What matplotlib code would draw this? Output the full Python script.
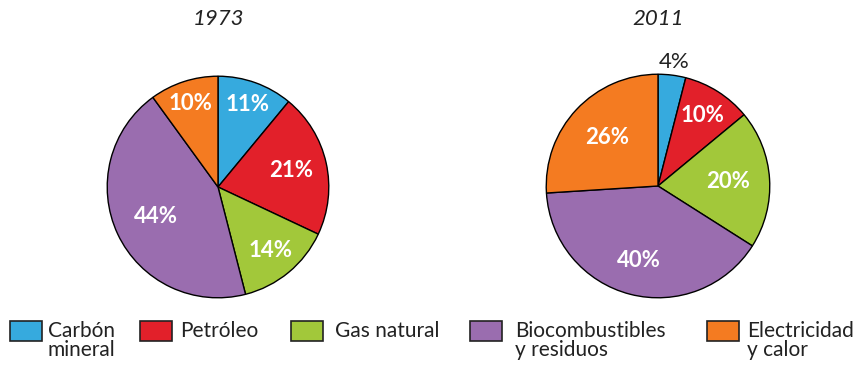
import numpy as np
import matplotlib.pyplot as plt
from matplotlib.patches import Rectangle

plt.rcParams['font.family'] = ['Lato', 'DejaVu Sans']

categories = ["Carbón\nmineral", "Petróleo", "Gas natural",
              "Biocombustibles\ny residuos", "Electricidad\ny calor"]
years = ["1973", "2011"]
shares_1973 = [11, 21, 14, 44, 10]
shares_2011 = [4, 10, 20, 40, 26]
colors = ["#36aade", "#e2202a", "#a2c83a", "#9a6daf", "#f47b21"]

# label radial distances (fraction of radius) and colours per wedge
label_dist = {
    "1973": [0.79, 0.68, 0.74, 0.62, 0.79],
    "2011": [1.12, 0.75, 0.63, 0.69, 0.63],
}
label_col = {
    "1973": ["white"] * 5,
    "2011": ["#222222", "white", "white", "white", "white"],
}

W, H = 857, 366
fig = plt.figure(figsize=(W / 100, H / 100), dpi=100)

# overlay in pixel coordinates for titles and legend
lg = fig.add_axes([0, 0, 1, 1], zorder=5)
lg.set_xlim(0, W)
lg.set_ylim(H, 0)
lg.axis("off")


def pie_axes(cx, cy, r):
    return fig.add_axes([(cx - r) / W, (H - cy - r) / H, 2 * r / W, 2 * r / H])


def draw_pie(ax, year, values):
    ax.pie(values, colors=colors, startangle=90, counterclock=False, radius=1.0,
           wedgeprops=dict(edgecolor="black", linewidth=1.0))
    total = sum(values)
    start = 90.0
    for i, v in enumerate(values):
        span = 360.0 * v / total
        mid = np.deg2rad(start - span / 2)
        start -= span
        d = label_dist[year][i]
        col = label_col[year][i]
        ax.text(d * np.cos(mid), d * np.sin(mid), f"{v}%", ha="center", va="center",
                fontsize=16, fontweight="bold" if col == "white" else "normal",
                color=col, clip_on=False)
    ax.set_xlim(-1.02, 1.02)
    ax.set_ylim(-1.02, 1.02)
    ax.set_aspect("equal")
    ax.axis("off")


ax1 = pie_axes(218, 187, 113)
draw_pie(ax1, years[0], shares_1973)
ax2 = pie_axes(658, 186, 114)
draw_pie(ax2, years[1], shares_2011)

for cx, yr in zip([218, 658], years):
    lg.text(cx, 19, yr, ha="center", va="center", fontsize=16,
            fontstyle="italic", color="#222222")

patch_x = [10, 140, 291, 470, 707]
text_x = [48, 180, 335, 515, 747]
for px, tx, c, lab in zip(patch_x, text_x, colors, categories):
    lg.add_patch(Rectangle((px, 321), 32, 20, facecolor=c, edgecolor="#222222",
                           linewidth=1.2))
    lg.text(tx, 321, lab, ha="left", va="top", fontsize=15, color="#222222",
            linespacing=0.95)

fig.savefig("out.png", dpi=100)
